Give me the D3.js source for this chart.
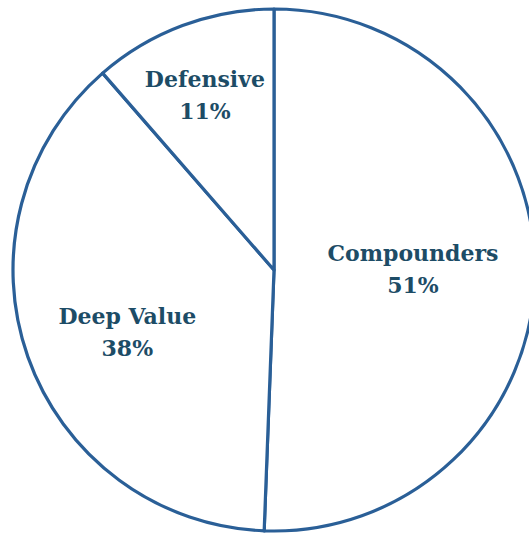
<!DOCTYPE html>
<html>
<head>
<meta charset="utf-8">
<script src="https://cdn.jsdelivr.net/npm/d3@7"></script>
<style>
  body { margin: 0; background: #fff; overflow: hidden; }
  svg { display: block; }
</style>
</head>
<body>
<script>
// slice data, clockwise from 12 o'clock
var categories = ['Compounders', 'Deep Value', 'Defensive'],
  shares = [50.6, 38.0, 11.4],
  pctLabels = ['51%', '38%', '11%']

var width = 529, height = 533,
  cx = 274, cy = 270, radius = 261

// label placement (layout only): distance from centre + small nudge
var labelRadius = [139, 163, 180],
  labelNudge = [[0, 2], [7, 14], [-6, 0]]

var svg = d3.select('body').append('svg')
  .attr('width', width)
  .attr('height', height)

var g = svg.append('g')
  .attr('transform', 'translate(' + cx + ',' + cy + ')')

var pie = d3.pie().sort(null).value(function(d) { return d })
var arc = d3.arc().innerRadius(0).outerRadius(radius)

var slices = pie(shares)

g.selectAll('path.slice')
  .data(slices)
  .enter().append('path')
  .attr('class', 'slice')
  .attr('d', arc)
  .attr('fill', '#fff')
  .attr('stroke', '#2a5f97')
  .attr('stroke-width', 3.2)
  .attr('stroke-linejoin', 'round')

// labels
var lbl = g.selectAll('text.lbl')
  .data(slices)
  .enter().append('text')
  .attr('class', 'lbl')
  .attr('text-anchor', 'middle')
  .attr('font-family', 'DejaVu Serif, Liberation Serif, serif')
  .attr('font-weight', 'bold')
  .attr('font-size', 22)
  .attr('fill', '#1d4c66')
  .attr('transform', function(d, i) {
    var a = (d.startAngle + d.endAngle) / 2,
      r = labelRadius[i]
    return 'translate(' + (r * Math.sin(a) + labelNudge[i][0]) + ',' +
      (-r * Math.cos(a) + labelNudge[i][1]) + ')'
  })

lbl.append('tspan')
  .attr('x', 0)
  .attr('y', -14)
  .text(function(d, i) { return categories[i] })

lbl.append('tspan')
  .attr('x', 0)
  .attr('y', 18)
  .text(function(d, i) { return pctLabels[i] })
</script>
</body>
</html>
